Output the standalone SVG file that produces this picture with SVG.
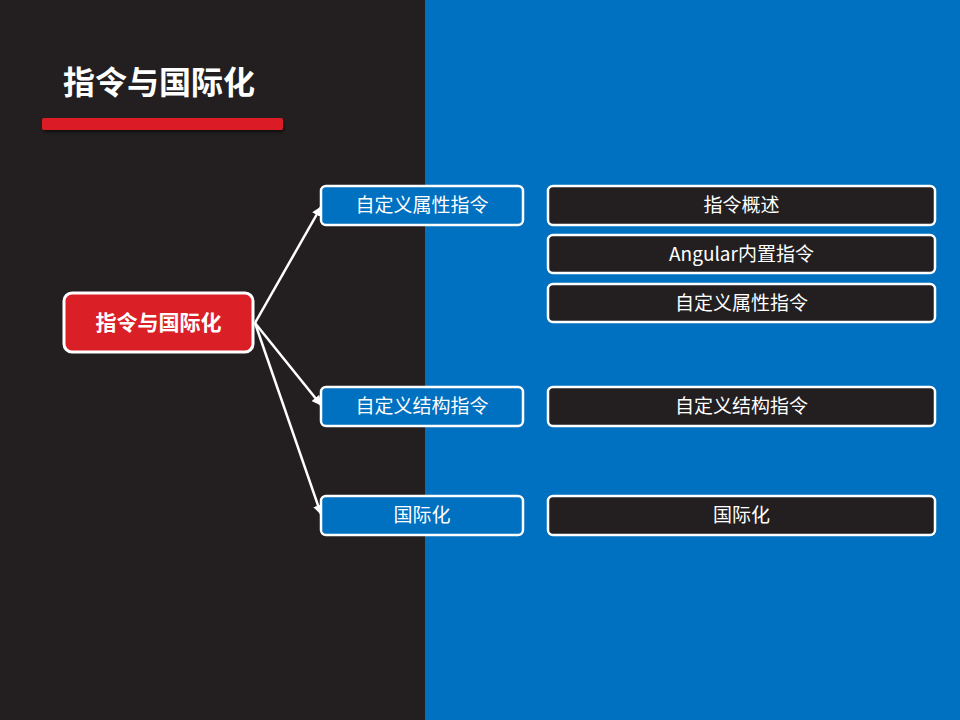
<svg xmlns="http://www.w3.org/2000/svg" width="960" height="720" viewBox="0 0 960 720">
<style>
.cjk{font-family:"Noto Sans CJK SC","Liberation Sans",sans-serif;fill:#fff;text-anchor:middle;dominant-baseline:central}
.t{font-size:19px}
.mid{fill:#0070c0;stroke:#fff;stroke-width:2.5}
.leaf{fill:#231f20;stroke:#fff;stroke-width:2.5}
.conn{stroke:#fff;stroke-width:2.5;fill:none;marker-end:url(#ah)}
</style>
<defs>
<marker id="ah" viewBox="0 0 10 10" refX="9" refY="5" markerWidth="4" markerHeight="4" orient="auto" markerUnits="strokeWidth">
<path d="M0,0 L10,5 L0,10 z" fill="#fff"/>
</marker>
<filter id="sh" x="-10%" y="-50%" width="120%" height="250%">
<feDropShadow dx="1" dy="2" stdDeviation="1.5" flood-color="#000" flood-opacity="0.6"/>
</filter>
</defs>
<rect x="0" y="0" width="425" height="720" fill="#231f20"/>
<rect x="425" y="0" width="535" height="720" fill="#0070c0"/>
<g id="title">
<text x="63" y="80" class="cjk" style="text-anchor:start;font-size:32px;font-weight:bold">指令与国际化</text>
<rect x="42" y="118" width="241" height="12" rx="2" fill="#db1f26" filter="url(#sh)"/>
</g>
<g id="connectors">
<line class="conn" x1="255" y1="323" x2="321" y2="207"/>
<line class="conn" x1="255" y1="323" x2="321" y2="405"/>
<line class="conn" x1="255" y1="323" x2="321" y2="514"/>
</g>
<g id="root">
<rect x="64" y="293" width="189" height="59" rx="8" fill="#db1f26" stroke="#fff" stroke-width="3"/>
<text x="158.5" y="321" class="cjk" style="font-size:21px;font-weight:bold">指令与国际化</text>
</g>
<g id="m1"><rect class="mid" x="321" y="186" width="202" height="39" rx="5"/><text x="422" y="203.5" class="cjk t">自定义属性指令</text></g>
<g id="m2"><rect class="mid" x="321" y="387" width="202" height="39" rx="5"/><text x="422" y="404.5" class="cjk t">自定义结构指令</text></g>
<g id="m3"><rect class="mid" x="321" y="496" width="202" height="39" rx="5"/><text x="422" y="513.5" class="cjk t">国际化</text></g>
<g id="l1"><rect class="leaf" x="548" y="186" width="387" height="39" rx="5"/><text x="741.5" y="203.5" class="cjk t">指令概述</text></g>
<g id="l2"><rect class="leaf" x="548" y="235" width="387" height="38" rx="5"/><text x="741.5" y="252" class="cjk t">Angular内置指令</text></g>
<g id="l3"><rect class="leaf" x="548" y="284" width="387" height="38" rx="5"/><text x="741.5" y="301" class="cjk t">自定义属性指令</text></g>
<g id="l4"><rect class="leaf" x="548" y="387" width="387" height="39" rx="5"/><text x="741.5" y="404.5" class="cjk t">自定义结构指令</text></g>
<g id="l5"><rect class="leaf" x="548" y="496" width="387" height="39" rx="5"/><text x="741.5" y="513.5" class="cjk t">国际化</text></g>
</svg>
